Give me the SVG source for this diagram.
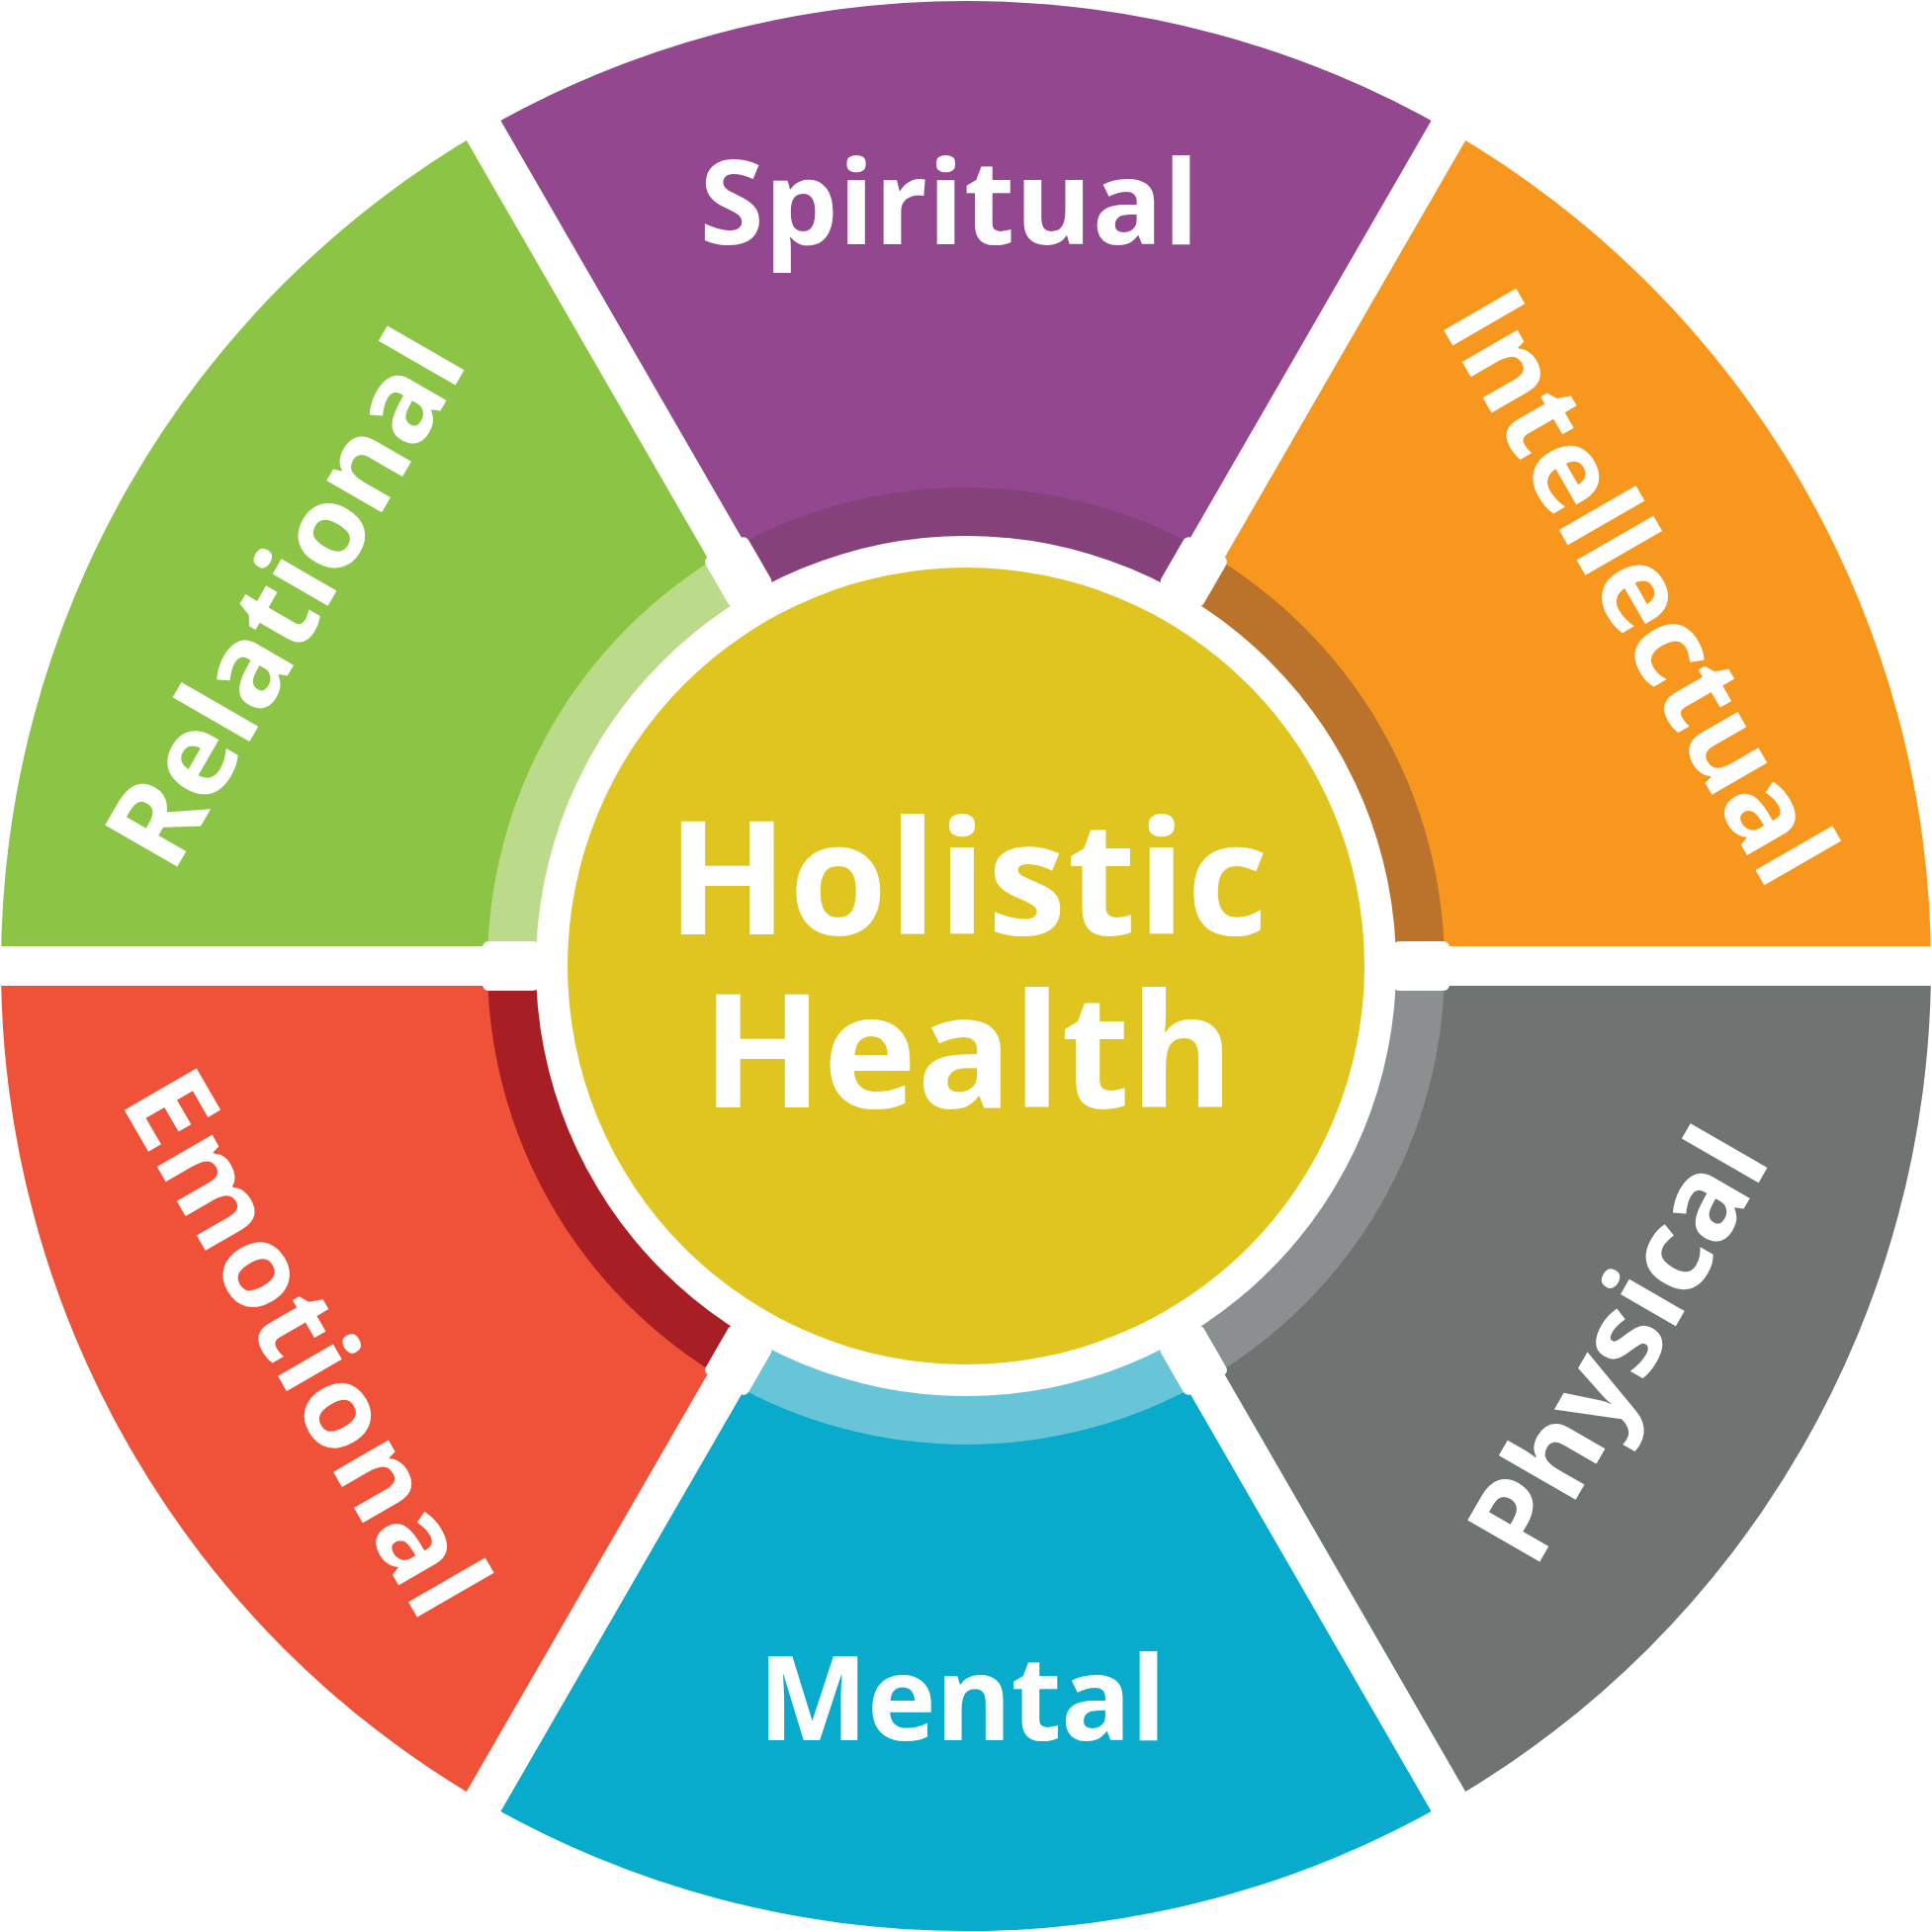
<svg xmlns="http://www.w3.org/2000/svg" width="1954" height="1954" viewBox="0 0 1954 1954">
<style>
.lbl{font-family:"Open Sans","Liberation Sans",sans-serif;font-weight:700;font-size:118px;fill:#ffffff;text-anchor:middle}
.ctr{font-family:"Open Sans","Liberation Sans",sans-serif;font-weight:700;font-size:160px;fill:#ffffff;text-anchor:middle}
.sep{fill:#ffffff}
</style>
<rect width="1954" height="1954" fill="#ffffff"/>
<g id="intellectual">
<path d="M977,977 L1465,131.76 A976,976 0 0 1 1953,977 Z" fill="#f7971d"/>
<path d="M977,977 L1219,557.84 A484,484 0 0 1 1461,977 Z" fill="#bb732b"/>
<text class="lbl" x="1622" y="614" textLength="668" lengthAdjust="spacing" transform="rotate(60 1622 614)">Intellectual</text>
</g>
<g id="spiritual">
<path d="M977,977 L489,131.76 A976,976 0 0 1 1465,131.76 Z" fill="#93478f"/>
<path d="M977,977 L735,557.84 A484,484 0 0 1 1219,557.84 Z" fill="#85417a"/>
<text class="lbl" x="960" y="247" textLength="505" lengthAdjust="spacing">Spiritual</text>
</g>
<g id="relational">
<path d="M977,977 L1,977 A976,976 0 0 1 489,131.76 Z" fill="#8cc545"/>
<path d="M977,977 L493,977 A484,484 0 0 1 735,557.84 Z" fill="#bcdb8a"/>
<text class="lbl" x="324" y="626" textLength="600" lengthAdjust="spacing" transform="rotate(-60 324 626)">Relational</text>
</g>
<g id="emotional">
<path d="M977,977 L489,1822.24 A976,976 0 0 1 1,977 Z" fill="#ef5238"/>
<path d="M977,977 L735,1396.16 A484,484 0 0 1 493,977 Z" fill="#a81e25"/>
<text class="lbl" x="273.5" y="1378.5" textLength="612" lengthAdjust="spacing" transform="rotate(60 273.5 1378.5)">Emotional</text>
</g>
<g id="mental">
<path d="M977,977 L1465,1822.24 A976,976 0 0 1 489,1822.24 Z" fill="#08abcb"/>
<path d="M977,977 L1219,1396.16 A484,484 0 0 1 735,1396.16 Z" fill="#67c5d7"/>
<text class="lbl" x="973" y="1760" textLength="413" lengthAdjust="spacing">Mental</text>
</g>
<g id="physical">
<path d="M977,977 L1953,977 A976,976 0 0 1 1465,1822.24 Z" fill="#6f7473"/>
<path d="M977,977 L1461,977 A484,484 0 0 1 1219,1396.16 Z" fill="#8c8f90"/>
<text class="lbl" x="1672" y="1381" textLength="480" lengthAdjust="spacing" transform="rotate(-60 1672 1381)">Physical</text>
</g>
<g id="separators">
<circle class="sep" cx="977" cy="977" r="435"/>
<rect class="sep" x="-10" y="957" width="1974" height="40"/>
<rect class="sep" x="-10" y="957" width="1974" height="40" transform="rotate(60 977 977)"/>
<rect class="sep" x="-10" y="957" width="1974" height="40" transform="rotate(-60 977 977)"/>
<rect class="sep" x="1409" y="952" width="57" height="50" rx="6" transform="rotate(0 977 977)"/>
<rect class="sep" x="1409" y="952" width="57" height="50" rx="6" transform="rotate(60 977 977)"/>
<rect class="sep" x="1409" y="952" width="57" height="50" rx="6" transform="rotate(120 977 977)"/>
<rect class="sep" x="1409" y="952" width="57" height="50" rx="6" transform="rotate(180 977 977)"/>
<rect class="sep" x="1409" y="952" width="57" height="50" rx="6" transform="rotate(240 977 977)"/>
<rect class="sep" x="1409" y="952" width="57" height="50" rx="6" transform="rotate(300 977 977)"/>
</g>
<g id="holistic-health">
<circle cx="977" cy="977" r="403" fill="#e0c520"/>
<text class="ctr"><tspan x="978.5" y="945" textLength="608" lengthAdjust="spacing">Holistic</tspan><tspan x="979" y="1120" textLength="538" lengthAdjust="spacing">Health</tspan></text>
</g>
</svg>
